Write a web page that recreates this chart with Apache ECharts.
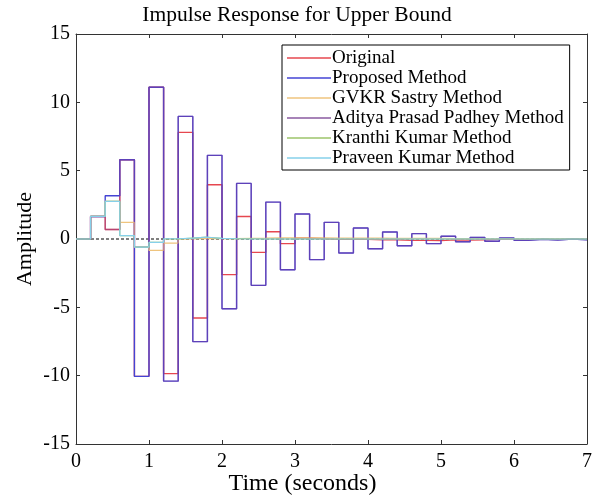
<!DOCTYPE html>
<html>
<head>
<meta charset="utf-8">
<script src="https://cdn.jsdelivr.net/npm/echarts@6/dist/echarts.min.js"></script>
<style>
  html, body {margin: 0; padding: 0; background: #fff;}
  #chart {width: 594px; height: 497px;}
</style>
</head>
<body>
<div id="chart"></div>
<script>
// sample instants (s); each value is held until the next instant
var times = [0, 0.2, 0.4, 0.6, 0.8, 1.0, 1.2, 1.4, 1.6, 1.8, 2.0, 2.2, 2.4, 2.6, 2.8, 3.0, 3.2, 3.4,
  3.6, 3.8, 4.0, 4.2, 4.4, 4.6, 4.8, 5.0, 5.2, 5.4, 5.6, 5.8, 6.0, 6.2, 6.4, 6.6, 6.8, 7.0];

var original = [0, 1.65, 0.7, 5.8, -10.05, 11.1, -9.85, 7.8, -5.78, 3.97, -2.61, 1.65, -0.98, 0.53,
  -0.34, 0.07, 0.02, -0.03, 0, -0.02, -0.05, -0.05, -0.1, -0.1, -0.12, -0.05, -0.08, -0.05, -0.03,
  -0.02, -0.03, -0.02, -0.02, -0.02, -0.02, -0.02];
var proposed = [0, 1.65, 3.17, 5.8, -10.05, 11.1, -10.4, 8.97, -7.51, 6.12, -5.1, 4.07, -3.39, 2.7,
  -2.25, 1.83, -1.51, 1.22, -1.02, 0.8, -0.71, 0.51, -0.49, 0.39, -0.34, 0.2, -0.2, 0.12, -0.17,
  0.07, -0.1, -0.02, -0.07, 0, -0.05, -0.05];
var gvkr = [0, 1.65, 2.75, 1.22, -0.59, -0.83, -0.3, 0, 0.05, 0.02, 0.03, 0.05, 0.06, 0.08, 0.08,
  0.08, 0.08, 0.07, 0.07, 0.06, 0.06, 0.05, 0.05, 0.04, 0.04, 0.03, 0.03, 0.02, 0.02, 0.02, 0.01,
  0.01, 0.01, 0.01, 0, 0];
var aditya = [0, 1.65, 0.7, 5.8, -0.59, 11.1, -10.4, 8.97, -7.51, 6.12, -5.1, 4.07, -3.39, 2.7,
  -2.25, 1.83, -1.51, 1.22, -1.02, 0.8, -0.71, 0.51, -0.49, 0.39, -0.34, 0.2, -0.2, 0.12, -0.17,
  0.07, -0.1, -0.02, -0.07, 0, -0.05, -0.05];
var kranthi = [0, 1.65, 2.75, 0.24, -0.59, -0.25, 0, 0.07, 0.13, 0.05, 0.03, 0.02, 0, 0, 0, 0, 0,
  0, 0, 0, 0, 0, 0, 0, 0, 0, 0, 0, 0, 0, 0, 0, 0, 0, 0, 0];
var praveen = [0, 1.65, 2.75, 0.24, -0.59, -0.25, 0.02, 0.07, 0.13, 0.05, 0.02, 0, 0, 0, 0, 0, 0,
  0, 0, 0, 0, 0, 0, 0, 0, 0, 0, 0, 0, 0, 0, 0, 0, 0, 0, 0];

var names = ["Original", "Proposed Method", "GVKR Sastry Method", "Aditya Prasad Padhey Method",
  "Kranthi Kumar Method", "Praveen Kumar Method"];
var values = [original, proposed, gvkr, aditya, kranthi, praveen];
var colors = ["#e6474f", "#4444d4", "#efc47e", "rgba(126,63,154,0.45)", "#9cc46a", "#86d0ea"];
var legendColors = ["#e6474f", "#4444d4", "#efc47e", "#8a5aa0", "#9cc46a", "#86d0ea"];
var widths = [1.4, 1.4, 1.2, 1.4, 1.2, 1.2];

var font = "Liberation Serif";

function pairs(vals) {
  return times.map(function (t, i) { return [t, vals[i]]; });
}

var series = [{
  name: "zero",
  type: "line",
  data: [[0, 0], [7, 0]],
  symbol: "none",
  silent: true,
  z: 1,
  lineStyle: {color: "#000", width: 1, type: [3, 2]}
}];
for (var i = 0; i < names.length; i++) {
  series.push({
    name: names[i],
    type: "line",
    step: "end",
    data: pairs(values[i]),
    symbol: "none",
    z: 2,
    color: legendColors[i],
    lineStyle: {color: colors[i], width: widths[i]}
  });
}

function axisBase(extra) {
  var a = {
    type: "value",
    axisLine: {show: true, onZero: false, lineStyle: {color: "#333", width: 1}},
    axisTick: {show: true, inside: true, length: 4, lineStyle: {color: "#333"}},
    axisLabel: {color: "#000", fontFamily: font, fontSize: 20},
    splitLine: {show: false}
  };
  for (var k in extra) a[k] = extra[k];
  return a;
}

var chart = echarts.init(document.getElementById("chart"));
chart.setOption({
  animation: false,
  backgroundColor: "#fff",
  title: {
    text: "Impulse Response for Upper Bound",
    left: "center",
    top: 4,
    padding: 0,
    textStyle: {color: "#000", fontFamily: font, fontSize: 21.5, fontWeight: "normal"}
  },
  grid: {left: 76, right: 7, top: 34, bottom: 53, outerBoundsMode: "none"},
  legend: {
    data: names,
    orient: "vertical",
    left: 282,
    top: 45,
    icon: "rect",
    itemWidth: 44,
    itemHeight: 1.5,
    itemGap: 0,
    padding: [3, 6, 2, 5],
    borderColor: "#000",
    borderWidth: 1,
    borderRadius: 0,
    backgroundColor: "#fff",
    textStyle: {color: "#000", fontFamily: font, fontSize: 19, lineHeight: 20, padding: [0, 0, 0, -4]}
  },
  xAxis: [
    axisBase({min: 0, max: 7, interval: 1, position: "bottom",
      name: "Time (seconds)", nameLocation: "middle", nameGap: 28, nameMoveOverlap: false,
      nameTextStyle: {color: "#000", fontFamily: font, fontSize: 24, padding: [0, 58, 0, 0]},
      axisLabel: {color: "#000", fontFamily: font, fontSize: 20, margin: 8}}),
    axisBase({min: 0, max: 7, interval: 1, position: "top", axisLabel: {show: false}})
  ],
  yAxis: [
    axisBase({min: -15, max: 15, interval: 5, position: "left",
      name: "Amplitude", nameLocation: "middle", nameGap: 40, nameMoveOverlap: false,
      nameTextStyle: {color: "#000", fontFamily: font, fontSize: 22},
      axisLabel: {color: "#000", fontFamily: font, fontSize: 20, margin: 6}}),
    axisBase({min: -15, max: 15, interval: 5, position: "right", axisLabel: {show: false}})
  ],
  series: series
});
</script>
</body>
</html>
